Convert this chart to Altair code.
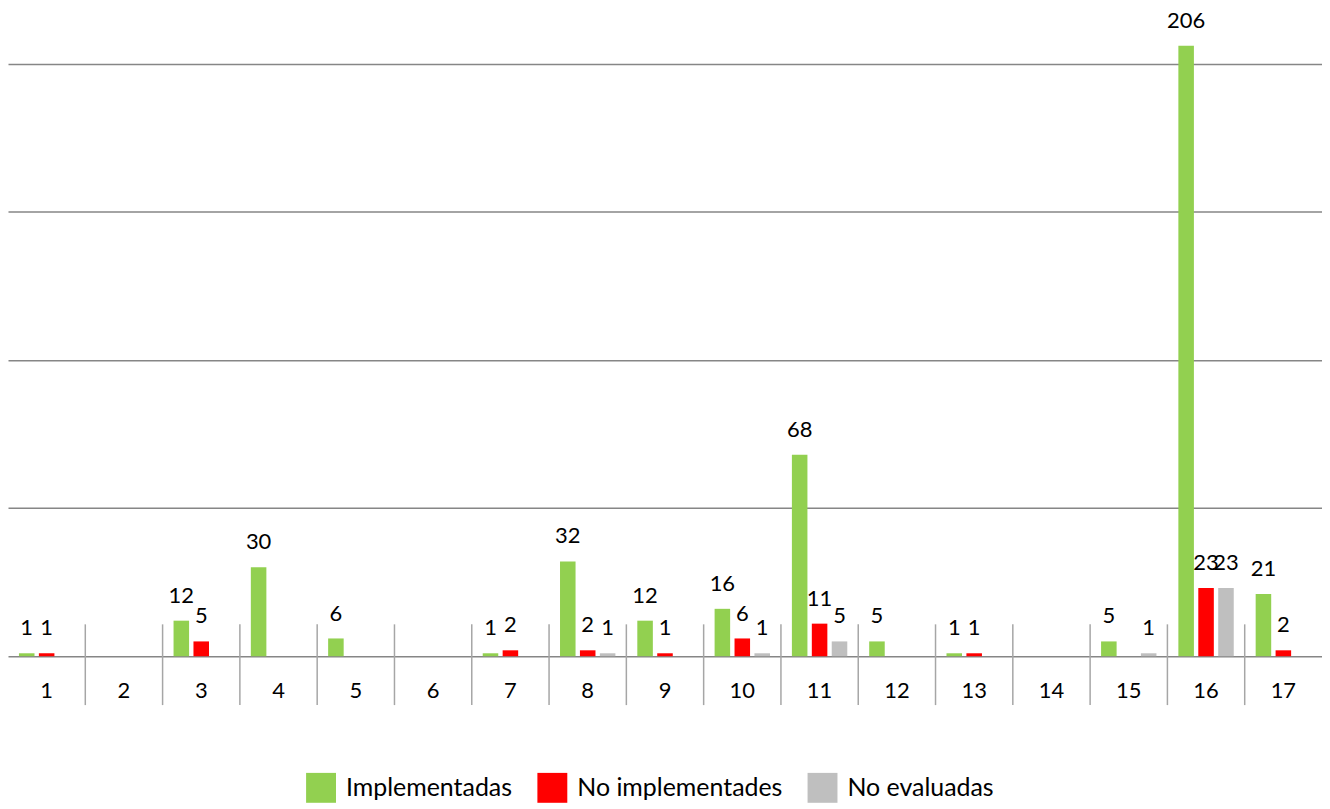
import altair as alt
import pandas as pd

categories = [str(i) for i in range(1, 18)]
series = ["Implementadas", "No implementades", "No evaluadas"]
implementadas = [1, 0, 12, 30, 6, 0, 1, 32, 12, 16, 68, 5, 1, 0, 5, 206, 21]
no_implementadas = [1, 0, 5, 0, 0, 0, 2, 2, 1, 6, 11, 0, 1, 0, 0, 23, 2]
no_evaluadas = [0, 0, 0, 0, 0, 0, 0, 1, 0, 1, 5, 0, 0, 0, 1, 23, 0]
colors = ["#92D050", "#FF0000", "#BFBFBF"]

rows = []
for s, vals in zip(series, [implementadas, no_implementadas, no_evaluadas]):
    for c, v in zip(categories, vals):
        rows.append({"cat": c, "serie": s, "valor": v})
df = pd.DataFrame(rows)
sep = pd.DataFrame({"cat": categories[1:]})

FONT = "Lato"
W, H = 1318, 648

x_enc = alt.X("cat:N", sort=categories, title=None,
              scale=alt.Scale(paddingInner=0, paddingOuter=0),
              axis=alt.Axis(labelAngle=0, ticks=False, labelPadding=24,
                            labelFontSize=22, labelFont=FONT, labelColor="#000000",
                            domainColor="#868686", domainWidth=1.5, grid=False))
xoff = alt.XOffset("serie:N", sort=series,
                   scale=alt.Scale(paddingInner=0.22, paddingOuter=0.55))
y_enc = alt.Y("valor:Q", title=None,
              scale=alt.Scale(domain=[0, 218], nice=False, zero=True),
              axis=alt.Axis(values=[50, 100, 150, 200], labels=False, ticks=False,
                            domain=False, grid=True, gridColor="#868686", gridWidth=1.5))
color_enc = alt.Color("serie:N", sort=series,
                      scale=alt.Scale(domain=series, range=colors),
                      legend=alt.Legend(title=None, orient="none", direction="horizontal",
                                        legendX=299, legendY=765,
                                        symbolType="square", symbolSize=900,
                                        symbolStrokeWidth=0, symbolOpacity=1,
                                        labelFontSize=25, labelFont=FONT, labelColor="#000000",
                                        labelOffset=10, labelLimit=0, columnPadding=25))

bars = alt.Chart(df).mark_bar(stroke=None).encode(x=x_enc, xOffset=xoff, y=y_enc, color=color_enc)

labels = alt.Chart(df).transform_filter(alt.datum.valor > 0).mark_text(
    font=FONT, fontSize=22, color="#000000", baseline="middle", dy=-25
).encode(x=alt.X("cat:N", sort=categories), xOffset=xoff, y="valor:Q",
         text=alt.Text("valor:Q"))

seps = alt.Chart(sep).mark_rule(color="#A6A6A6", strokeWidth=1.5).encode(
    x=alt.X("cat:N", sort=categories, bandPosition=0),
    y=alt.value(616), y2=alt.value(697))

chart = alt.layer(bars, seps, labels).properties(
    width=W, height=H, padding=0
).configure(font=FONT).configure_view(strokeWidth=0, stroke=None)

chart.save("out.html", embed_options={"renderer": "svg", "actions": False})
